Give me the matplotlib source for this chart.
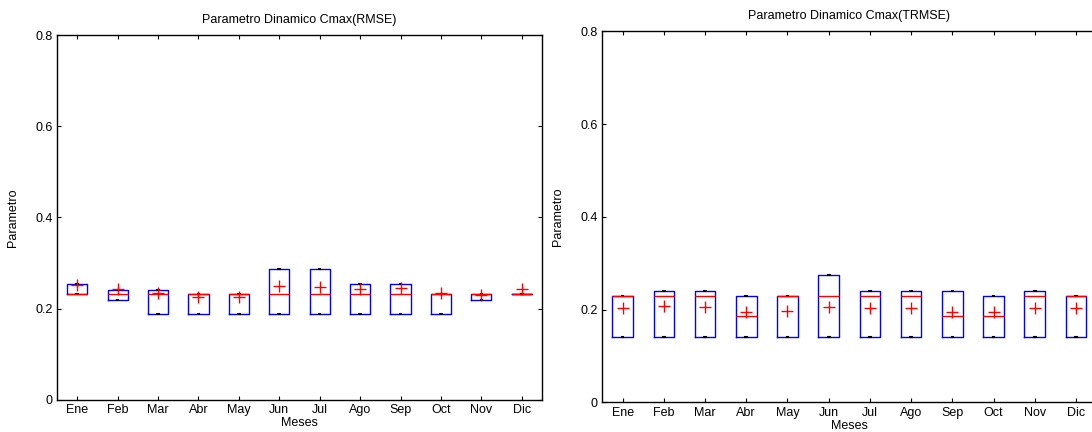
import numpy as np
import matplotlib
matplotlib.use('Agg')
import matplotlib.pyplot as plt

plt.rcParams['font.family'] = ['Liberation Sans', 'DejaVu Sans']
plt.rcParams['font.size'] = 9

meses = ['Ene', 'Feb', 'Mar', 'Abr', 'May', 'Jun', 'Jul', 'Ago', 'Sep', 'Oct',
         'Nov', 'Dic']

# Cmax (RMSE)
q1_rmse = [0.232, 0.219, 0.188, 0.188, 0.188, 0.188, 0.188, 0.188, 0.188,
           0.188, 0.219, 0.232]
q3_rmse = [0.254, 0.2415, 0.2415, 0.232, 0.232, 0.2863, 0.2863, 0.2533,
           0.2533, 0.232, 0.232, 0.232]
med_rmse = [0.232, 0.232, 0.232, 0.232, 0.232, 0.232, 0.232, 0.232, 0.232,
            0.232, 0.232, 0.232]
mean_rmse = [0.251, 0.2424, 0.2336, 0.226, 0.226, 0.2485, 0.248, 0.243,
             0.2446, 0.2336, 0.23, 0.2424]

# Cmax (TRMSE)
q1_trmse = [0.1418]*12
q3_trmse = [0.2302, 0.2403, 0.2403, 0.2302, 0.2302, 0.2741, 0.2403, 0.2403,
            0.2403, 0.2302, 0.2403, 0.2302]
med_trmse = [0.2302, 0.2302, 0.2302, 0.1864, 0.2302, 0.2302, 0.2302, 0.2302,
             0.1864, 0.1864, 0.2302, 0.2302]
mean_trmse = [0.2043, 0.208, 0.2052, 0.1957, 0.1978, 0.2052, 0.203, 0.203,
              0.1957, 0.1957, 0.203, 0.203]

fig = plt.figure(figsize=(10.92, 4.32), dpi=100)
ax1 = fig.add_axes([0.0522, 0.0748, 0.4441, 0.8435])
ax2 = fig.add_axes([0.5513, 0.0683, 0.4529, 0.8593])


def caja(ax, q1, q3, med, media, titulo):
    stats = []
    for i in range(len(meses)):
        stats.append({'q1': q1[i], 'q3': q3[i], 'med': med[i],
                      'whislo': q1[i], 'whishi': q3[i], 'mean': media[i],
                      'fliers': []})
    pos = np.arange(1, len(meses) + 1)
    ax.bxp(stats, positions=pos, widths=0.5, showmeans=True,
           showfliers=False, capwidths=0.04,
           boxprops=dict(color='blue', linewidth=1),
           medianprops=dict(color='red', linewidth=1),
           whiskerprops=dict(color='blue', linewidth=1),
           capprops=dict(color='black', linewidth=1.5),
           meanprops=dict(marker='+', markeredgecolor='red',
                          markerfacecolor='red', markersize=8,
                          markeredgewidth=1))
    ax.set_xlim(0.5, 12.5)
    ax.set_ylim(0, 0.8)
    ax.set_xticks(pos)
    ax.set_xticklabels(meses)
    ax.set_yticks([0, 0.2, 0.4, 0.6, 0.8])
    ax.set_yticklabels(['0', '0.2', '0.4', '0.6', '0.8'])
    ax.tick_params(direction='in', top=True, right=True, length=3,
                   width=0.8, pad=3)
    for s in ax.spines.values():
        s.set_linewidth(1)
    ax.set_title(titulo, fontsize=9, pad=9)
    # MATLAB pone 'Meses' pegado a las etiquetas
    ax.set_xlabel('Meses', labelpad=1)
    ax.set_ylabel('Parametro', labelpad=12)


caja(ax1, q1_rmse, q3_rmse, med_rmse, mean_rmse,
     'Parametro Dinamico Cmax(RMSE)')
caja(ax2, q1_trmse, q3_trmse, med_trmse, mean_trmse,
     'Parametro Dinamico Cmax(TRMSE)')

fig.savefig('out.png', dpi=100)
